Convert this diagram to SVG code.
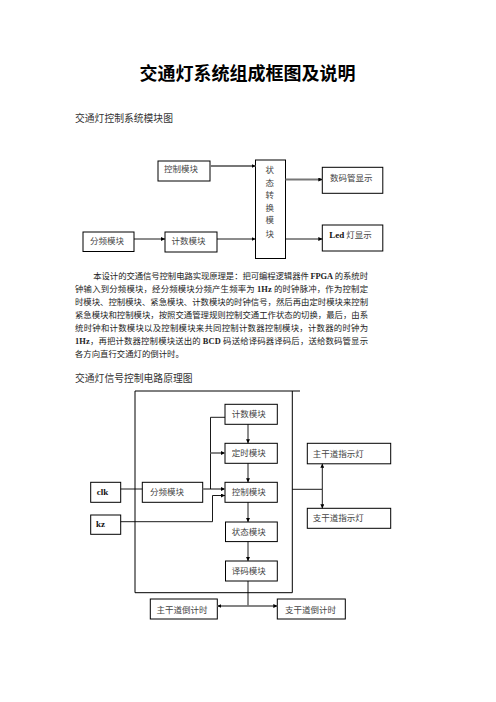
<svg xmlns="http://www.w3.org/2000/svg" width="496" height="702" viewBox="0 0 496 702">
<style>
.bx{fill:#fff;stroke:#000;stroke-width:1}
.lb{font-family:"Noto Sans CJK SC","Noto Sans",sans-serif;font-size:8.5px;fill:#444}
.lt{font-family:"Liberation Serif",serif;font-weight:bold;font-size:9px;fill:#111}
.p{font-family:"Noto Sans CJK SC","Noto Sans",sans-serif;font-size:8.4px;fill:#222}
.pl{font-family:"Liberation Serif",serif;font-weight:bold}
.ln{fill:none;stroke:#000;stroke-width:0.9}
.gl{fill:none;stroke:#777;stroke-width:1.8}
.fr{fill:none;stroke:#000;stroke-width:1}
</style>
<defs>
<marker id="ah" viewBox="0 0 6 6" refX="6" refY="3" markerWidth="4" markerHeight="4" markerUnits="userSpaceOnUse" orient="auto"><path d="M0,0 L6,3 L0,6 z" fill="#000"/></marker>
</defs>
<rect width="496" height="702" fill="#fff"/>
<text x="247.5" y="80" text-anchor="middle" font-family="Noto Sans CJK SC,sans-serif" font-weight="bold" font-size="18" fill="#000">交通灯系统组成框图及说明</text>
<text x="75" y="121.5" font-family="Noto Sans CJK SC,sans-serif" font-size="9.8" fill="#333">交通灯控制系统模块图</text>

<g id="top-nodes">
<g id="t-ctrl"><rect class="bx" x="158" y="161" width="52" height="20"/><text class="lb" x="164" y="172">控制模块</text></g>
<g id="t-div"><rect class="bx" x="83" y="232" width="51" height="19.5"/><text class="lb" x="90" y="243.5">分频模块</text></g>
<g id="t-cnt"><rect class="bx" x="165" y="232" width="52" height="20"/><text class="lb" x="171.5" y="243.5">计数模块</text></g>
<g id="t-state"><rect class="bx" x="255.5" y="160" width="30" height="98.5"/>
<text class="lb" x="265.5" y="173">状</text><text class="lb" x="265.5" y="185.5">态</text><text class="lb" x="265.5" y="198">转</text><text class="lb" x="265.5" y="210.5">换</text><text class="lb" x="265.5" y="223">模</text><text class="lb" x="265.5" y="236.5">块</text></g>
<g id="t-seg"><rect class="bx" x="322.3" y="167.3" width="60.5" height="26"/><text class="lb" x="330" y="180.7">数码管显示</text></g>
<g id="t-led"><rect class="bx" x="322.3" y="225" width="60.5" height="26"/><text x="329.3" y="238"><tspan class="lt">Led</tspan><tspan class="lb"> 灯显示</tspan></text></g>
</g>
<g id="top-connectors">
<path class="gl" d="M210,166 H255.5" marker-end="url(#ah)"/>
<path class="ln" d="M134,239 H165" marker-end="url(#ah)"/>
<path class="ln" d="M217,239 H255.5" marker-end="url(#ah)"/>
<path class="gl" d="M285.5,179.5 H322.3" marker-end="url(#ah)"/>
<path class="ln" d="M285.5,239 H322.3" marker-end="url(#ah)"/>
</g>

<g id="paragraph">
<text class="p" x="93.3" y="278.5" textLength="274.7" lengthAdjust="spacing">本设计的交通信号控制电路实现原理是：把可编程逻辑器件 <tspan class="pl">FPGA</tspan> 的系统时</text>
<text class="p" x="75" y="291.5" textLength="293" lengthAdjust="spacing">钟输入到分频模块，经分频模块分频产生频率为 <tspan class="pl">1Hz</tspan> 的时钟脉冲，作为控制定</text>
<text class="p" x="75" y="304.7" textLength="293" lengthAdjust="spacing">时模块、控制模块、紧急模块、计数模块的时钟信号，然后再由定时模块来控制</text>
<text class="p" x="75" y="317.8" textLength="293" lengthAdjust="spacing">紧急模块和控制模块，按照交通管理规则控制交通工作状态的切换，最后，由系</text>
<text class="p" x="75" y="330.7" textLength="293" lengthAdjust="spacing">统时钟和计数模块以及控制模块来共同控制计数器控制模块，计数器的时钟为</text>
<text class="p" x="75" y="343.7" textLength="293" lengthAdjust="spacing"><tspan class="pl">1Hz</tspan>，再把计数器控制模块送出的 <tspan class="pl">BCD</tspan> 码送给译码器译码后，送给数码管显示</text>
<text class="p" x="75" y="357">各方向直行交通灯的倒计时。</text>
</g>

<text x="75" y="381.8" font-family="Noto Sans CJK SC,sans-serif" font-size="9.8" fill="#333">交通灯信号控制电路原理图</text>

<g id="frame"><path class="fr" d="M300,391 H135 V592.7 H292.3 V391"/></g>

<g id="bottom-nodes">
<g id="b-cnt"><rect class="bx" x="225" y="404.3" width="52.3" height="20"/><text class="lb" x="231.7" y="417.3">计数模块</text></g>
<g id="b-timer"><rect class="bx" x="225" y="443.3" width="52.3" height="20"/><text class="lb" x="231.7" y="456.3">定时模块</text></g>
<g id="b-ctrl"><rect class="bx" x="225" y="482.3" width="52.3" height="20"/><text class="lb" x="231.7" y="495.3">控制模块</text></g>
<g id="b-div"><rect class="bx" x="142.3" y="482.3" width="60.4" height="20"/><text class="lb" x="150" y="495.3">分频模块</text></g>
<g id="b-clk"><rect class="bx" x="90.7" y="482.3" width="30" height="20"/><text class="lt" x="96.7" y="495.3">clk</text></g>
<g id="b-kz"><rect class="bx" x="90.7" y="515" width="30" height="19.3"/><text class="lt" x="96" y="526.5">kz</text></g>
<g id="b-state"><rect class="bx" x="225.5" y="522" width="51.8" height="19.6"/><text class="lb" x="231.7" y="534.8">状态模块</text></g>
<g id="b-dec"><rect class="bx" x="225.5" y="561" width="51.8" height="20"/><text class="lb" x="231.7" y="574">译码模块</text></g>
<g id="b-mainlight"><rect class="bx" x="307.3" y="443.3" width="83.4" height="20.5"/><text class="lb" x="312.7" y="456.5">主干道指示灯</text></g>
<g id="b-sublight"><rect class="bx" x="307.3" y="508.3" width="83.4" height="20"/><text class="lb" x="312.7" y="521">支干道指示灯</text></g>
<g id="b-maincnt"><rect class="bx" x="150.3" y="599" width="67" height="20"/><text class="lb" x="156.5" y="612.5">主干道倒计时</text></g>
<g id="b-subcnt"><rect class="bx" x="277.3" y="599" width="68" height="20"/><text class="lb" x="285" y="612.5">支干道倒计时</text></g>
</g>

<g id="bottom-connectors">
<path class="ln" d="M120.7,489 H142.3"/>
<path class="gl" d="M202.7,489 H225" marker-end="url(#ah)"/>
<path class="ln" d="M225,417.3 H210.5 V489"/>
<path class="gl" d="M210.5,453 H225" marker-end="url(#ah)"/>
<path class="ln" d="M120.7,521.7 H212.5 V495.5 H225" marker-end="url(#ah)"/>
<path class="ln" d="M248,424.3 V443.3" marker-end="url(#ah)"/>
<path class="ln" d="M248,463.3 V482.3" marker-end="url(#ah)"/>
<path class="ln" d="M248,502.3 V522" marker-end="url(#ah)"/>
<path class="ln" d="M248,541.6 V561" marker-end="url(#ah)"/>
<path class="ln" d="M248,581 V606"/>
<path class="gl" d="M248,606 H217.3" marker-end="url(#ah)"/>
<path class="gl" d="M248,606 H277.3" marker-end="url(#ah)"/>
<path class="ln" d="M292.3,489.3 H322.3"/>
<path class="ln" d="M322.3,489.3 V463.8" marker-end="url(#ah)"/>
<path class="ln" d="M322.3,489.3 V508.3" marker-end="url(#ah)"/>
</g>
</svg>
